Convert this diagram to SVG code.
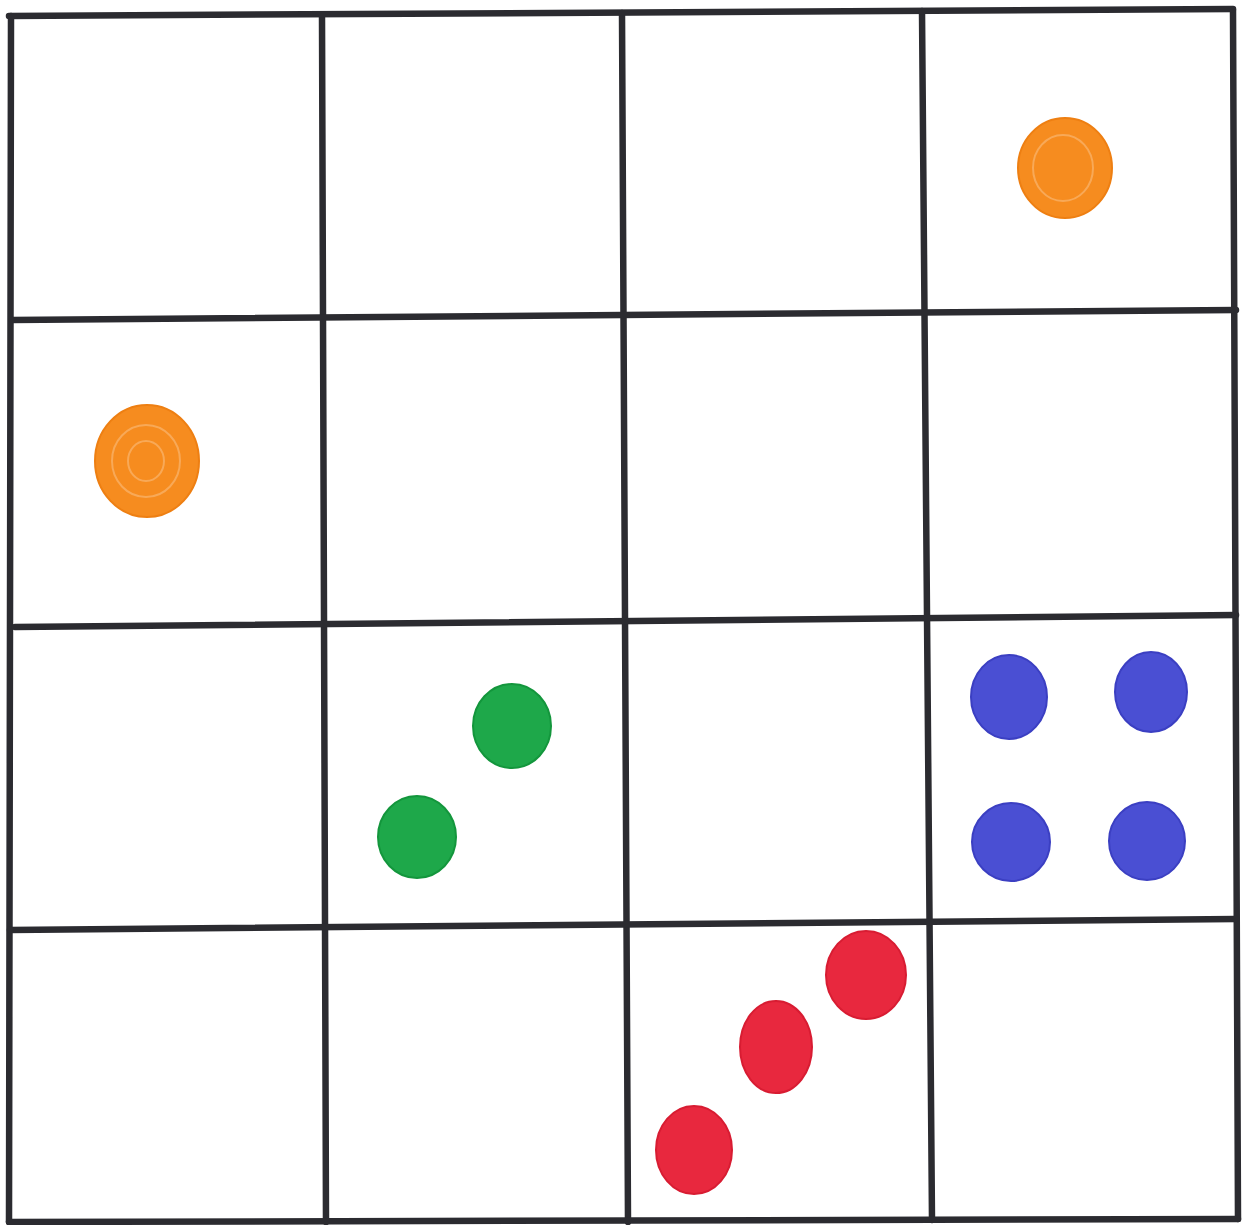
<svg xmlns="http://www.w3.org/2000/svg" width="1244" height="1225" viewBox="0 0 1244 1225">
<style>
.ln{stroke:#2b2b30;stroke-width:6.5;stroke-linecap:round;fill:none}
.or{fill:#f68c1f;stroke:#ee7f12;stroke-width:2}
.gr{fill:#1ea84a;stroke:#13963c;stroke-width:2}
.bl{fill:#4a4fd3;stroke:#3b3fc2;stroke-width:2}
.rd{fill:#e8283e;stroke:#d81c32;stroke-width:2}
.hl{fill:none;stroke:#ffffff;stroke-opacity:0.25;stroke-width:2}
</style>
<rect width="1244" height="1225" fill="#ffffff"/>
<g id="grid">
<path class="ln" d="M11,16 L9,1222"/>
<path class="ln" d="M322,16 L326,1222"/>
<path class="ln" d="M622,13 L628,1222"/>
<path class="ln" d="M922,11 L932,1220"/>
<path class="ln" d="M1233,10 L1238,1219"/>
<path class="ln" d="M9,16 L1233,9"/>
<path class="ln" d="M12,320 L1236,310"/>
<path class="ln" d="M15,627 L1236,615"/>
<path class="ln" d="M10,930 L1236,919"/>
<path class="ln" d="M9,1222 L1238,1219"/>
</g>
<g id="dots">
<g id="orange">
<ellipse class="or" cx="1065" cy="168" rx="47" ry="50"/>
<ellipse class="hl" cx="1063" cy="168" rx="30" ry="33"/>
<ellipse class="or" cx="147" cy="461" rx="52" ry="56"/>
<ellipse class="hl" cx="146" cy="461" rx="34" ry="36"/>
<ellipse class="hl" cx="146" cy="461" rx="18" ry="20"/>
</g>
<g id="green">
<ellipse class="gr" cx="512" cy="726" rx="39" ry="42"/>
<ellipse class="gr" cx="417" cy="837" rx="39" ry="41"/>
</g>
<g id="blue">
<ellipse class="bl" cx="1009" cy="697" rx="38" ry="42"/>
<ellipse class="bl" cx="1151" cy="692" rx="36" ry="40"/>
<ellipse class="bl" cx="1011" cy="842" rx="39" ry="39"/>
<ellipse class="bl" cx="1147" cy="841" rx="38" ry="39"/>
</g>
<g id="red">
<ellipse class="rd" cx="866" cy="975" rx="40" ry="44"/>
<ellipse class="rd" cx="776" cy="1047" rx="36" ry="46"/>
<ellipse class="rd" cx="694" cy="1150" rx="38" ry="44"/>
</g>
</g>
</svg>
